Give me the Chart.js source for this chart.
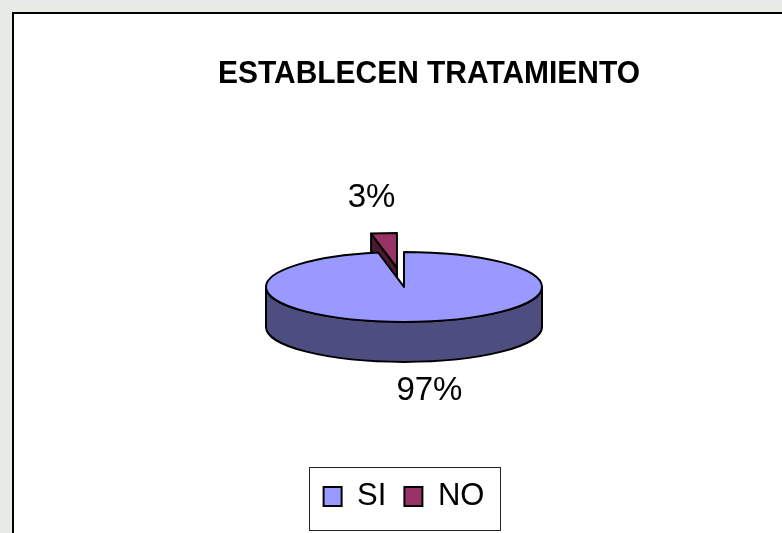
<!DOCTYPE html>
<html>
<head>
<meta charset="utf-8">
<script src="https://cdn.jsdelivr.net/npm/chart.js@4.4.1/dist/chart.umd.min.js"></script>
<style>
  html, body { margin: 0; padding: 0; width: 782px; height: 533px; overflow: hidden; background: #e7eae5; }
  #frame { position: absolute; left: 12px; top: 12px; width: 800px; height: 560px; background: #fff;
           border-left: 2px solid #000; border-top: 2px solid #000; }
  #pieChart { position: absolute; left: 0; top: 0; }
</style>
</head>
<body>
<div id="frame"></div>
<canvas id="pieChart" width="782" height="533"></canvas>
<script>
// data
const categories = ["SI", "NO"];
const values = [97, 3];

// look
const topColors = ["#9999FF", "#993366"];
const sideColors = ["#4D4D80", "#4C1933"];
const explode = [0, 75];        // pull-out of each slice (before tilt)
const SQUASH = 35 / 138;        // tilt of the disc
const DEPTH = 40;               // thickness of the disc

Chart.defaults.font.family = '"Liberation Sans", Arial, sans-serif';
Chart.defaults.color = "#000";

function pivot(chart) {
  const a = chart.chartArea;
  return { x: (a.left + a.right) / 2, y: (a.top + a.bottom) / 2 };
}

// centre of an arc on screen, after tilting
function screenCenter(arc, p) {
  return { x: arc.x, y: p.y + (arc.y - p.y) * SQUASH };
}

// empty box on the right: keeps the pie left of the title's centre
const spacer = {
  id: "spacer",
  beforeInit(chart) {
    Chart.layouts.addBox(chart, {
      position: "right", weight: 100, fullSize: false, options: {},
      left: 0, top: 0, right: 0, bottom: 0, width: 0, height: 0,
      isHorizontal() { return false; },
      update(maxWidth, maxHeight) { this.width = 50; this.height = maxHeight; },
      draw() {}
    });
  }
};

// fake 3D: pull slices out, draw rim + cut faces, tilt the top faces
const pie3d = {
  id: "pie3d",
  afterDatasetsUpdate(chart) {
    const meta = chart.getDatasetMeta(0);
    meta.data.forEach((arc, i) => {
      const d = explode[i] || 0;
      if (!d) return;
      const mid = (arc.startAngle + arc.endAngle) / 2;
      arc.x += Math.cos(mid) * d;
      arc.y += Math.sin(mid) * d;
    });
  },
  beforeDatasetsDraw(chart) {
    const ctx = chart.ctx;
    const p = pivot(chart);
    const arcs = chart.getDatasetMeta(0).data.map((arc, i) => ({ arc, i }));
    // back slices first
    arcs.sort((a, b) => Math.sin((a.arc.startAngle + a.arc.endAngle) / 2) - Math.sin((b.arc.startAngle + b.arc.endAngle) / 2));

    ctx.save();
    ctx.lineWidth = 2;
    ctx.lineJoin = "round";
    ctx.strokeStyle = "#000";
    arcs.forEach(({ arc, i }) => {
      const c = screenCenter(arc, p);
      const R = arc.outerRadius, ry = R * SQUASH;
      ctx.fillStyle = sideColors[i];

      // radial faces that look toward the viewer
      [[arc.startAngle, Math.cos(arc.startAngle) < -0.01], [arc.endAngle, Math.cos(arc.endAngle) > 0.01]].forEach(([a, visible]) => {
        if (!visible) return;
        const px = c.x + Math.cos(a) * R, py = c.y + Math.sin(a) * ry;
        ctx.beginPath();
        ctx.moveTo(c.x, c.y);
        ctx.lineTo(px, py);
        ctx.lineTo(px, py + DEPTH);
        ctx.lineTo(c.x, c.y + DEPTH);
        ctx.closePath();
        ctx.fill();
        ctx.stroke();
      });

      // front rim
      for (let k = -1; k <= 2; k++) {
        const lo = Math.max(arc.startAngle, 2 * Math.PI * k);
        const hi = Math.min(arc.endAngle, 2 * Math.PI * k + Math.PI);
        if (hi <= lo) continue;
        ctx.beginPath();
        ctx.ellipse(c.x, c.y, R, ry, 0, lo, hi);
        ctx.ellipse(c.x, c.y + DEPTH, R, ry, 0, hi, lo, true);
        ctx.closePath();
        ctx.fill();
        ctx.stroke();
      }
    });
    ctx.restore();

    // tilt the top faces that Chart.js draws next
    ctx.save();
    ctx.translate(p.x, p.y);
    ctx.scale(1, SQUASH);
    ctx.translate(-p.x, -p.y);
  },
  afterDatasetsDraw(chart) {
    const ctx = chart.ctx;
    ctx.restore();
    const p = pivot(chart);
    const meta = chart.getDatasetMeta(0);
    const total = values.reduce((s, v) => s + v, 0);

    ctx.save();
    ctx.lineWidth = 2;
    ctx.lineJoin = "round";
    ctx.strokeStyle = "#000";
    meta.data.forEach((arc, i) => {
      const c = screenCenter(arc, p);
      const R = arc.outerRadius;
      ctx.beginPath();
      ctx.moveTo(c.x, c.y);
      ctx.ellipse(c.x, c.y, R, R * SQUASH, 0, arc.startAngle, arc.endAngle);
      ctx.closePath();
      ctx.stroke();
    });

    // percentage labels
    ctx.font = '33px "Liberation Sans", Arial, sans-serif';
    ctx.fillStyle = "#000";
    ctx.textAlign = "center";
    ctx.textBaseline = "middle";
    meta.data.forEach((arc, i) => {
      const c = screenCenter(arc, p);
      const mid = (arc.startAngle + arc.endAngle) / 2;
      const s = Math.sin(mid);
      const x = c.x + Math.cos(mid) * 270;
      const y = c.y + s * 70 + (s > 0 ? DEPTH * 0.85 : 0);
      ctx.fillText(Math.round(values[i] / total * 100) + "%", x, y);
    });
    ctx.restore();
  },
  afterDraw(chart) {
    // frame round the legend
    const boxes = chart.legend.legendHitBoxes;
    if (!boxes || !boxes.length) return;
    const left = Math.min(...boxes.map(b => b.left)) - 15;
    const right = Math.max(...boxes.map(b => b.left + b.width)) + 15;
    const top = Math.min(...boxes.map(b => b.top)) - 14;
    const bottom = Math.max(...boxes.map(b => b.top + b.height)) + 18;
    const ctx = chart.ctx;
    ctx.save();
    ctx.strokeStyle = "#222";
    ctx.lineWidth = 1;
    ctx.strokeRect(Math.round(left) + 0.5, Math.round(top) + 0.5, Math.round(right - left), Math.round(bottom - top));
    ctx.restore();
  }
};

new Chart(document.getElementById("pieChart"), {
  type: "pie",
  data: {
    labels: categories,
    datasets: [{
      data: values,
      backgroundColor: topColors,
      borderWidth: 0,
      radius: 138,
      clip: false
    }]
  },
  options: {
    responsive: false,
    animation: false,
    events: [],
    layout: { padding: { left: 218, right: 142, top: 12, bottom: 11 } },
    plugins: {
      title: {
        display: true,
        text: "ESTABLECEN TRATAMIENTO",
        align: "start",
        font: { size: 31, weight: "bold" },
        padding: { top: 43.4, bottom: 18.2 }
      },
      legend: {
        position: "bottom",
        fullSize: false,
        labels: {
          font: { size: 31 },
          boxWidth: 18,
          boxHeight: 19,
          padding: 18,
          generateLabels(chart) {
            const items = Chart.overrides.pie.plugins.legend.labels.generateLabels(chart);
            items.forEach(it => { it.lineWidth = 2; it.strokeStyle = "#000"; });
            return items;
          }
        }
      },
      tooltip: { enabled: false }
    }
  },
  plugins: [spacer, pie3d]
});
</script>
</body>
</html>
